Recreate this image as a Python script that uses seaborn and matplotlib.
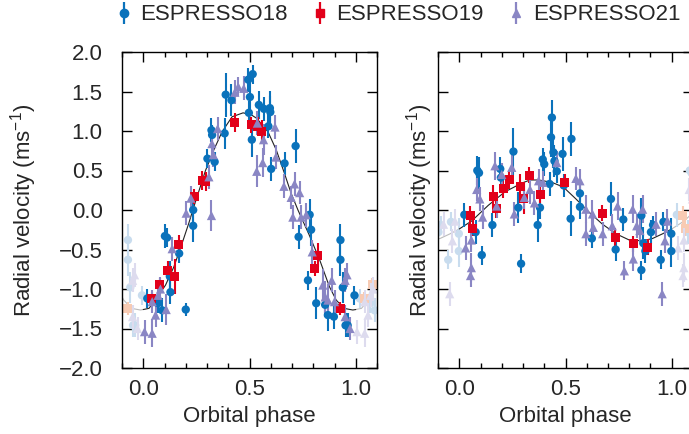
import numpy as np
import pandas as pd
import matplotlib
matplotlib.use('Agg')
import matplotlib.pyplot as plt
import seaborn as sns
from matplotlib.ticker import MultipleLocator, FuncFormatter

# ---- left panel data ----
l18_phase = [0.019, 0.069, 0.089, 0.102, 0.112, 0.125, 0.128, 0.169, 0.200, 0.235, 0.235, 0.302,
             0.321, 0.324, 0.336, 0.383, 0.388, 0.415, 0.494, 0.515, 0.502, 0.497, 0.511, 0.544,
             0.568, 0.596, 0.598, 0.589, 0.602, 0.665, 0.717, 0.731, 0.783, 0.790, 0.775, 0.814,
             0.856, 0.869, 0.897, 0.928, 0.928, 0.939, 0.994, 0.952, 0.962]
l18_rv = [-1.12, -1.18, -1.27, -0.33, -0.35, -0.84, -1.04, -0.55, -1.26, 0.00, -0.20, 0.65,
          1.01, 0.95, 0.61, 0.97, 1.46, 1.39, 1.65, 1.72, 1.43, 1.23, 0.89, 1.33,
          1.28, 1.29, 1.24, 1.06, 0.52, 0.59, 0.81, -0.34, -0.06, -0.25, -0.89, -1.18,
          -1.20, -1.33, -1.35, -0.38, -0.63, -0.98, -1.08, -1.46, -1.46]
l18_err = [0.12, 0.12, 0.15, 0.15, 0.12, 0.20, 0.15, 0.12, 0.08, 0.15, 0.20, 0.12,
           0.15, 0.12, 0.12, 0.20, 0.28, 0.20, 0.15, 0.12, 0.20, 0.15, 0.22, 0.18,
           0.15, 0.22, 0.20, 0.15, 0.15, 0.15, 0.21, 0.15, 0.20, 0.20, 0.12, 0.20,
           0.15, 0.20, 0.15, 0.20, 0.20, 0.20, 0.12, 0.15, 0.15]

l19_phase = [0.039, 0.078, 0.116, 0.149, 0.167, 0.240, 0.277, 0.293, 0.430, 0.508, 0.540, 0.558,
             0.806, 0.822, 0.928]
l19_rv = [-1.12, -0.94, -0.77, -0.84, -0.44, 0.17, 0.37, 0.36, 1.11, 1.08, 1.06, 0.99,
          -0.74, -0.57, -1.245]
l19_err = [0.08, 0.08, 0.12, 0.22, 0.12, 0.10, 0.12, 0.12, 0.12, 0.10, 0.12, 0.15,
           0.10, 0.15, 0.08]

l21_phase = [0.006, 0.042, 0.058, 0.042, 0.070, 0.081, 0.108, 0.136, 0.202, 0.224, 0.321, 0.309,
             0.323, 0.330, 0.350, 0.431, 0.447, 0.473, 0.534, 0.537, 0.562, 0.566, 0.620, 0.624,
             0.662, 0.696, 0.712, 0.736, 0.704, 0.743, 0.767, 0.795, 0.845, 0.856, 0.869, 0.887,
             0.900, 0.950, 0.959, 0.950, 0.973]
l21_rv = [-1.54, -1.56, -1.33, -1.16, -1.08, -1.00, -1.26, -0.49, -0.04, 0.15, -0.07, 0.42,
          0.84, 0.70, 1.03, 1.49, 1.56, 1.54, 0.49, 1.10, 0.60, 0.89, 1.05, 0.67,
          0.30, 0.16, 0.33, 0.22, -0.09, -0.09, -0.06, -0.53, -0.95, -1.10, -1.14, -0.89,
          -1.16, -0.89, -0.82, -1.35, -1.50]
l21_err = [0.15, 0.18, 0.15, 0.15, 0.15, 0.15, 0.20, 0.15, 0.15, 0.15, 0.20, 0.15,
           0.15, 0.15, 0.15, 0.15, 0.12, 0.15, 0.20, 0.15, 0.18, 0.20, 0.15, 0.15,
           0.15, 0.15, 0.15, 0.15, 0.15, 0.15, 0.15, 0.15, 0.20, 0.20, 0.20, 0.15,
           0.15, 0.15, 0.15, 0.15, 0.15]

lfit_phase = [0.0, 0.027, 0.058, 0.105, 0.144, 0.183, 0.214, 0.238, 0.293, 0.332, 0.371, 0.418,
              0.470, 0.511, 0.534, 0.587, 0.626, 0.665, 0.696, 0.728, 0.780, 0.830, 0.876, 0.908,
              0.945, 0.986, 1.0]
lfit_rv = [-1.26, -1.245, -1.14, -0.95, -0.72, -0.42, -0.17, 0.04, 0.50, 0.76, 0.99, 1.18,
           1.23, 1.20, 1.16, 0.99, 0.76, 0.46, 0.21, 0.0, -0.31, -0.63, -0.97, -1.14,
           -1.245, -1.266, -1.26]

# ---- right panel data ----
r18_phase = [0.024, 0.077, 0.106, 0.085, 0.093, 0.156, 0.193, 0.196, 0.255, 0.278, 0.291, 0.369,
             0.380, 0.393, 0.400, 0.436, 0.432, 0.443, 0.448, 0.459, 0.486, 0.492, 0.425, 0.528,
             0.524, 0.568, 0.568, 0.624, 0.714, 0.736, 0.772, 0.857, 0.857, 0.866, 0.876, 0.902,
             0.912, 0.961, 0.998, 0.998, 0.948]
r18_rv = [-0.06, -0.28, -0.57, 0.50, 0.47, -0.19, 0.52, 0.41, 0.74, 0.03, -0.68, -0.19,
          0.03, 0.64, 0.58, 1.17, 0.92, 0.73, 0.62, 0.49, 0.71, 0.31, 0.33, 0.90,
          -0.11, 0.21, 0.04, -0.36, 0.14, -0.50, -0.12, -0.07, -0.76, -0.42, -0.52, -0.28,
          -0.19, -0.15, -0.30, -0.52, -0.63]
r18_err = [0.15, 0.15, 0.12, 0.18, 0.20, 0.15, 0.15, 0.15, 0.30, 0.20, 0.12, 0.22,
           0.15, 0.15, 0.15, 0.22, 0.25, 0.20, 0.20, 0.15, 0.22, 0.15, 0.15, 0.22,
           0.22, 0.15, 0.15, 0.12, 0.22, 0.15, 0.15, 0.22, 0.12, 0.20, 0.15, 0.15,
           0.12, 0.12, 0.20, 0.20, 0.12]

r19_phase = [0.052, 0.064, 0.159, 0.175, 0.206, 0.236, 0.288, 0.303, 0.330, 0.382, 0.497, 0.673,
             0.735, 0.819, 0.886]
r19_rv = [-0.07, -0.23, 0.17, 0.02, 0.27, 0.39, 0.30, 0.15, 0.44, 0.19, 0.35, -0.04,
          -0.35, -0.43, -0.47]
r19_err = [0.12, 0.10, 0.15, 0.12, 0.12, 0.12, 0.15, 0.20, 0.10, 0.10, 0.10, 0.10,
           0.12, 0.10, 0.10]

r21_phase = [0.030, 0.053, 0.057, 0.057, 0.082, 0.097, 0.110, 0.168, 0.200, 0.176, 0.247, 0.259,
             0.306, 0.333, 0.354, 0.373, 0.393, 0.459, 0.549, 0.568, 0.596, 0.596, 0.627, 0.631,
             0.675, 0.720, 0.745, 0.777, 0.816, 0.819, 0.835, 0.863, 0.850, 0.926, 0.968, 0.980,
             0.955]
r21_rv = [-0.48, -0.83, -0.73, -0.38, 0.26, 0.14, -0.09, 0.56, 0.45, 0.05, 0.54, -0.05,
          0.16, 0.26, 0.09, 0.37, 0.35, 0.60, 0.40, 0.37, 0.01, -0.30, -0.05, -0.22,
          -0.30, -0.20, 0.05, -0.77, 0.01, -0.62, -0.20, 0.01, -0.26, -0.18, -0.39, -0.14,
          -1.06]
r21_err = [0.15, 0.15, 0.18, 0.15, 0.15, 0.15, 0.15, 0.18, 0.15, 0.15, 0.15, 0.15,
           0.15, 0.18, 0.15, 0.15, 0.15, 0.15, 0.15, 0.15, 0.18, 0.15, 0.18, 0.15,
           0.15, 0.15, 0.18, 0.12, 0.18, 0.15, 0.15, 0.18, 0.15, 0.15, 0.15, 0.15,
           0.15]

rfit_phase = [0.0, 0.058, 0.137, 0.215, 0.294, 0.333, 0.373, 0.436, 0.490, 0.549, 0.612, 0.674,
              0.737, 0.800, 0.863, 0.910, 0.958, 1.0]
rfit_rv = [-0.24, -0.14, 0.06, 0.23, 0.34, 0.38, 0.38, 0.35, 0.29, 0.14, -0.03, -0.18,
           -0.30, -0.38, -0.39, -0.36, -0.30, -0.24]

labels = ['ESPRESSO18', 'ESPRESSO19', 'ESPRESSO21']
colors = ['#0a72bb', '#e2001a', '#8a86c4']
faded = ['#c8dcee', '#f8cbb3', '#dddbee']
markers = ['o', 's', '^']
msizes = [36, 42, 44]

sns.set_theme(style='ticks')
plt.rcParams['font.family'] = ['Liberation Sans', 'DejaVu Sans']
plt.rcParams['mathtext.fontset'] = 'custom'
plt.rcParams['mathtext.rm'] = 'Liberation Sans'
plt.rcParams['mathtext.default'] = 'regular'
FS = 16


def wrap(df):
    lo = df[df.phase > 0.9].assign(phase=lambda d: d.phase - 1)
    hi = df[df.phase < 0.1].assign(phase=lambda d: d.phase + 1)
    return pd.concat([lo, hi])


def draw_series(ax, ph, rv, err, i):
    df = pd.DataFrame({'phase': ph, 'rv': rv, 'err': err})
    w = wrap(df)
    ax.errorbar(w.phase, w.rv, yerr=w.err, fmt='none', ecolor=faded[i], elinewidth=1.5, zorder=1)
    sns.scatterplot(data=w, x='phase', y='rv', color=faded[i], marker=markers[i], s=msizes[i],
                    edgecolor='none', linewidth=0, ax=ax, zorder=1, legend=False)
    ax.errorbar(df.phase, df.rv, yerr=df.err, fmt='none', ecolor=colors[i], elinewidth=1.5, zorder=3)
    sns.scatterplot(data=df, x='phase', y='rv', color=colors[i], marker=markers[i], s=msizes[i],
                    edgecolor='none', linewidth=0, ax=ax, zorder=4, legend=False)


def draw_fit(ax, ph, rv):
    fit = pd.DataFrame({'phase': ph, 'rv': rv})
    sns.lineplot(data=fit, x='phase', y='rv', color='#222222', lw=0.8, estimator=None, sort=False,
                 ax=ax, zorder=2)
    lo = fit[fit.phase >= 0.85].assign(phase=lambda d: d.phase - 1)
    hi = fit[fit.phase <= 0.15].assign(phase=lambda d: d.phase + 1)
    for part in (lo, hi):
        sns.lineplot(data=part, x='phase', y='rv', color='#bbbbbb', lw=0.8, estimator=None,
                     sort=False, ax=ax, zorder=1)


def fmt(v, pos):
    return f'{v:.1f}'.replace('-', '\u2212')


fig = plt.figure(figsize=(6.89, 4.34), dpi=100)
W, H = 689, 434
ax1 = fig.add_axes([122 / W, 1 - 368 / H, 255 / W, 316 / H])
ax2 = fig.add_axes([438 / W, 1 - 368 / H, 255 / W, 316 / H])

panels = [
    (ax1, [(l18_phase, l18_rv, l18_err), (l19_phase, l19_rv, l19_err), (l21_phase, l21_rv, l21_err)],
     lfit_phase, lfit_rv),
    (ax2, [(r18_phase, r18_rv, r18_err), (r19_phase, r19_rv, r19_err), (r21_phase, r21_rv, r21_err)],
     rfit_phase, rfit_rv),
]

for ax, series, fph, frv in panels:
    draw_fit(ax, fph, frv)
    for i, (ph, rv, err) in enumerate(series):
        draw_series(ax, ph, rv, err, i)
    ax.set_xlim(-0.1, 1.1)
    ax.set_ylim(-2.0, 2.0)
    ax.xaxis.set_major_locator(MultipleLocator(0.5))
    ax.xaxis.set_minor_locator(MultipleLocator(0.1))
    ax.yaxis.set_major_locator(MultipleLocator(0.5))
    ax.xaxis.set_major_formatter(FuncFormatter(fmt))
    ax.yaxis.set_major_formatter(FuncFormatter(fmt))
    ax.tick_params(which='both', direction='in', top=True, right=True, width=1.0,
                   labelsize=FS, color='black')
    ax.tick_params(which='major', length=7)
    ax.tick_params(axis='x', which='major', pad=8)
    ax.tick_params(axis='y', which='major', pad=14)
    ax.tick_params(which='minor', length=3.5)
    for s in ax.spines.values():
        s.set_linewidth(1.0)
        s.set_color('black')
    ax.set_xlabel('Orbital phase', fontsize=FS, labelpad=4)

ax1.set_ylabel('Radial velocity (ms$^{-1}$)', fontsize=FS, labelpad=14)
ax2.set_ylabel('Radial velocity (ms$^{-1}$)', fontsize=FS, labelpad=2)
ax2.tick_params(labelleft=False)

handles = []
for i in range(3):
    h = ax1.errorbar([np.nan], [np.nan], yerr=[0.1], fmt=markers[i], color=colors[i],
                     ms=6, elinewidth=1.6, capsize=0)
    handles.append(h)
fig.legend(handles, labels, loc='center left', bbox_to_anchor=(118 / W, 1 - 15 / H),
           ncol=3, frameon=False, fontsize=FS, handlelength=0.5, handletextpad=0.5,
           columnspacing=1.2, borderpad=0, borderaxespad=0)

fig.savefig('out.png', dpi=100)
